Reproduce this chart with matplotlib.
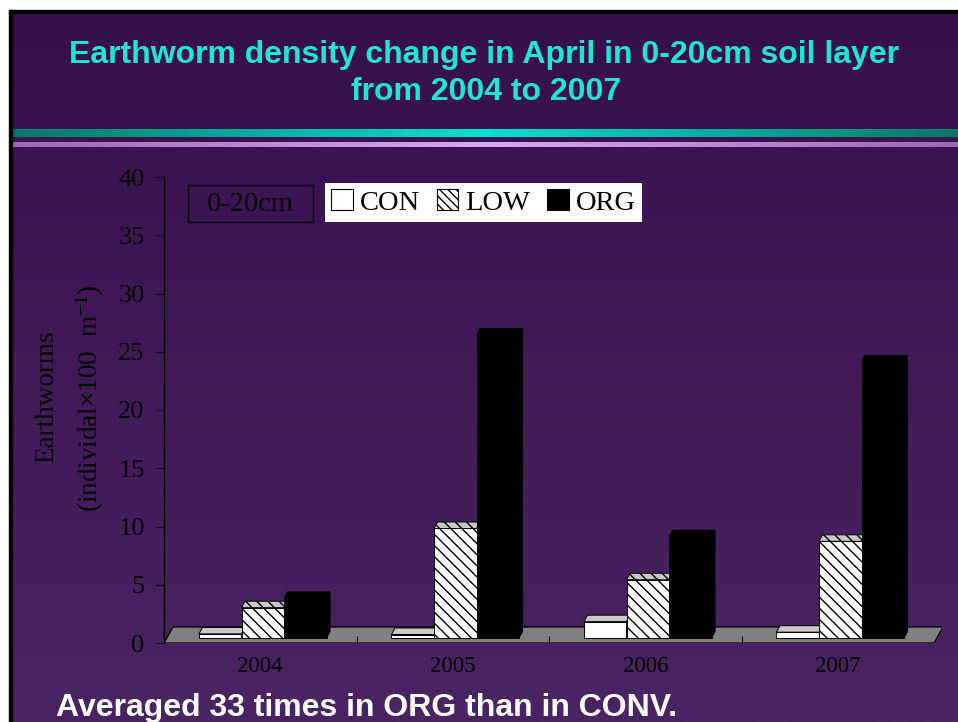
import numpy as np
import matplotlib
matplotlib.use("Agg")
import matplotlib.pyplot as plt
from matplotlib.patches import Polygon, Rectangle, Patch
from matplotlib.colors import LinearSegmentedColormap

# ---------------- data ----------------
years = ["2004", "2005", "2006", "2007"]
series_names = ["CON", "LOW", "ORG"]
con_vals = [0.35, 0.3, 1.4, 0.5]
low_vals = [2.6, 9.4, 5.0, 8.3]
org_vals = [3.4, 26.0, 8.7, 23.7]
y_ticks = [0, 5, 10, 15, 20, 25, 30, 35, 40]
title_line1 = "Earthworm density change in April in 0-20cm soil layer"
title_line2 = "from 2004 to 2007"
footer = "Averaged 33 times in ORG than in CONV."
ylabel1 = "Earthworms"
ylabel2 = "(individal\u00d7100  m$^{-1}$)"
box_label = "0-20cm"

plt.rcParams["mathtext.fontset"] = "custom"
plt.rcParams["mathtext.rm"] = "Liberation Serif"
plt.rcParams["mathtext.it"] = "Liberation Serif:italic"
plt.rcParams["mathtext.bf"] = "Liberation Serif:bold"
plt.rcParams["hatch.linewidth"] = 1.0

W, H = 958, 722
fig = plt.figure(figsize=(W / 100, H / 100), dpi=100, facecolor="white")

def fx(px):
    return px / W

def fy(py):
    return 1 - py / H

# ---------------- background ----------------
bg = fig.add_axes([0, 0, 1, 1], zorder=-5)
bg.set_xlim(0, W)
bg.set_ylim(H, 0)
bg.axis("off")
grad_cmap = LinearSegmentedColormap.from_list("bg", ["#380f4d", "#4b2463"])
bg.imshow(np.linspace(0, 1, 256).reshape(-1, 1), cmap=grad_cmap, aspect="auto",
          extent=(12, W, H, 13), zorder=0)
teal = LinearSegmentedColormap.from_list("teal", ["#007868", "#00e2d0", "#007868"])
bg.imshow(np.linspace(0, 1, 256).reshape(1, -1), cmap=teal, aspect="auto",
          extent=(12, W, 137.5, 130), zorder=1)
lav = LinearSegmentedColormap.from_list("lav", ["#9a6ab6", "#dba4f8", "#9a6ab6"])
bg.imshow(np.linspace(0, 1, 256).reshape(1, -1), cmap=lav, aspect="auto",
          extent=(12, W, 146.8, 142), zorder=1)
bg.add_patch(Rectangle((9, 10), 3, H - 10, color="black", zorder=2))
bg.add_patch(Rectangle((9, 10), W - 9, 3, color="black", zorder=2))

# ---------------- titles ----------------
fig.text(fx(484), fy(63.5), title_line1, ha="center", va="baseline",
         family="Liberation Sans", weight="bold", fontsize=23, color="#1de6d2")
fig.text(fx(486), fy(100), title_line2, ha="center", va="baseline",
         family="Liberation Sans", weight="bold", fontsize=23, color="#1de6d2")
fig.text(fx(56), fy(716), footer, ha="left", va="baseline",
         family="Liberation Sans", weight="bold", fontsize=23, color="white")

# ---------------- main axes ----------------
cat_px = 192.5
unit_px = (643 - 177) / 40.0
ax = fig.add_axes([fx(164), fy(643), (942 - 164) / W, (643 - 177) / H])
ax.patch.set_alpha(0)
ax.set_xlim(-0.5, -0.5 + (942 - 164) / cat_px)
ax.set_ylim(0, 40)
for s in ["top", "right", "bottom"]:
    ax.spines[s].set_visible(False)
ax.spines["left"].set_linewidth(0.9)
ax.set_yticks(y_ticks)
ax.tick_params(axis="y", direction="out", length=6, width=0.8, pad=8,
               labelsize=19, labelcolor="black")
for t in ax.get_yticklabels():
    t.set_family("Liberation Serif")

x = np.arange(len(years))
ax.set_xticks(x[:-1] + 0.5)
ax.set_xticklabels([])
ax.tick_params(axis="x", which="major", direction="in", length=5, width=0.8)
ax.set_xticks(x, minor=True)
ax.set_xticklabels(years, minor=True, fontsize=16.5, family="Liberation Serif")
ax.tick_params(axis="x", which="minor", length=0, pad=9)

# floor
dxf = 9 / cat_px
dyf = 16 / unit_px
floor = Polygon([(-0.5, 0), (3.5, 0), (3.5 + dxf, dyf), (-0.5 + dxf, dyf)],
                closed=True, facecolor="#808080", edgecolor="black", lw=0.9, zorder=1)
ax.add_patch(floor)

# bars
w = 42.5 / cat_px
base = 5 / unit_px
dx = 3.5 / cat_px
dy = 6.5 / unit_px
offsets = [-0.208, 0.013, 0.234]
front = [dict(facecolor="white", hatch=None),
         dict(facecolor="white", hatch="\\\\\\"),
         dict(facecolor="black", hatch=None)]
topc = ["#c8c8c8", "#c8c8c8", "black"]
all_vals = [con_vals, low_vals, org_vals]

z = 3
for i in range(len(years)):
    for k, vals in enumerate(all_vals):
        xc = x[i] + offsets[k]
        v = vals[i]
        x0, x1 = xc - w / 2, xc + w / 2
        top = base + v
        side = Polygon([(x1, base), (x1 + dx, base + dy), (x1 + dx, top + dy), (x1, top)],
                       closed=True, facecolor=topc[k] if k < 2 else "black",
                       edgecolor="black", lw=0.7, zorder=z)
        ax.add_patch(side)
        tp = Polygon([(x0, top), (x1, top), (x1 + dx, top + dy), (x0 + dx, top + dy)],
                     closed=True, facecolor=topc[k], edgecolor="black", lw=0.7,
                     hatch=front[k]["hatch"], zorder=z)
        ax.add_patch(tp)
        ax.bar(xc, v, width=w, bottom=base, facecolor=front[k]["facecolor"],
               edgecolor="black", lw=0.7, hatch=front[k]["hatch"], zorder=z + 0.5)
        z += 1

# ---------------- y label ----------------
fig.text(fx(53), fy(397), ylabel1, rotation=90, rotation_mode="anchor",
         ha="center", va="baseline", family="Liberation Serif", fontsize=19.5)
fig.text(fx(98), fy(399), ylabel2, rotation=90, rotation_mode="anchor",
         ha="center", va="baseline", family="Liberation Serif", fontsize=19.5)

# ---------------- "0-20cm" box ----------------
bg.add_patch(Rectangle((188, 185), 125, 37, facecolor="none", edgecolor="black",
                       lw=1.0, zorder=3))
fig.text(fx(250.5), fy(211), box_label, ha="center", va="baseline",
         family="Liberation Serif", fontsize=20.5)

# ---------------- legend ----------------
handles = [Patch(facecolor="white", edgecolor="black", lw=0.8),
           Patch(facecolor="white", edgecolor="black", lw=0.8, hatch="\\\\\\\\"),
           Patch(facecolor="black", edgecolor="black", lw=0.8)]
leg = fig.legend(handles, series_names, ncol=3, loc="upper left",
                 bbox_to_anchor=(fx(325), fy(183)), bbox_transform=fig.transFigure,
                 frameon=True, fancybox=False, facecolor="white", edgecolor="white",
                 framealpha=1, borderpad=0.22, borderaxespad=0, handlelength=0.75,
                 handleheight=0.75, handletextpad=0.25, columnspacing=0.6,
                 prop={"family": "Liberation Serif", "size": 20.5})
leg.get_frame().set_linewidth(0)

fig.savefig("out.png", dpi=100, facecolor="white")
